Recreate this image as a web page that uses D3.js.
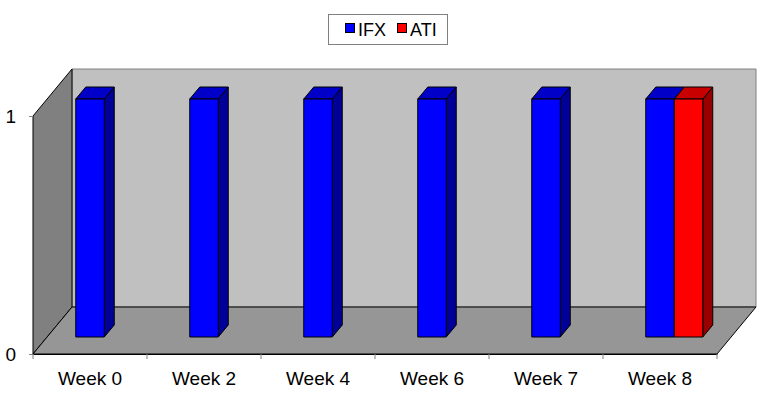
<!DOCTYPE html>
<html><head><meta charset="utf-8">
<script src="https://cdn.jsdelivr.net/npm/d3@7/dist/d3.min.js"></script>
<style>
html,body{margin:0;padding:0;background:#fff;}
svg{display:block;font-family:"Liberation Sans",Arial,sans-serif;}
</style></head>
<body>
<svg id="chart" width="774" height="400"></svg>
<script>
const categories = ["Week 0","Week 2","Week 4","Week 6","Week 7","Week 8"];
const seriesNames = ["IFX","ATI"];
const ifxValues = [1,1,1,1,1,1];
const atiValues = [null,null,null,null,null,1];
const yTicks = [0,1];

const colors = {
  IFX:{front:"#0000ff", top:"#0000c8", side:"#000098"},
  ATI:{front:"#ff0000", top:"#c80000", side:"#980000"}
};
const series = [
  {name:"IFX", values:ifxValues},
  {name:"ATI", values:atiValues}
];

const svg = d3.select("#chart");
const x = d3.scaleBand().domain(categories).range([33,717]).paddingInner(0).paddingOuter(0);
const y = d3.scaleLinear().domain([0,1]).range([354,116]);

const DX = 39, DY = -47;
const bdx = 10, bdy = -12, barShiftY = -17;
const barW = x.bandwidth()/4;

const x0 = x.range()[0], x1 = x.range()[1];
const yb = y(0), yt = y(1);

svg.append("polygon")
  .attr("points", [[x0+DX,yt+DY],[x1+DX,yt+DY],[x1+DX,yb+DY],[x0+DX,yb+DY]].join(" "))
  .attr("fill","#c0c0c0").attr("stroke","#808080").attr("stroke-width",1);
svg.append("polygon")
  .attr("points", [[x0,yt],[x0+DX,yt+DY],[x0+DX,yb+DY],[x0,yb]].join(" "))
  .attr("fill","#808080").attr("stroke","#000").attr("stroke-width",1);
svg.append("polygon")
  .attr("points", [[x0,yb],[x0+DX,yb+DY],[x1+DX,yb+DY],[x1,yb]].join(" "))
  .attr("fill","#969696").attr("stroke","#000").attr("stroke-width",1);

const bars = [];
categories.forEach((c,i)=>{
  series.forEach((s,si)=>{
    const v = s.values[i];
    if (v==null) return;
    const left = x(c) + x.bandwidth()/2 - barW/2 + si*barW;
    bars.push({c, s:s.name, v, left});
  });
});
const g = svg.append("g");
bars.forEach(b=>{
  const L = b.left, R = b.left+barW;
  const T = y(b.v)+barShiftY, B = y(0)+barShiftY;
  const col = colors[b.s];
  const bg = g.append("g").attr("stroke","#000").attr("stroke-width",1).attr("stroke-linejoin","round");
  bg.append("polygon").attr("points",[[R,T],[R+bdx,T+bdy],[R+bdx,B+bdy],[R,B]].join(" ")).attr("fill",col.side);
  bg.append("polygon").attr("points",[[L,T],[L+bdx,T+bdy],[R+bdx,T+bdy],[R,T]].join(" ")).attr("fill",col.top);
  bg.append("rect").attr("x",L).attr("y",T).attr("width",barW).attr("height",B-T).attr("fill",col.front);
});

const xAxis = d3.axisBottom(x).tickSize(0).tickPadding(18);
const gx = svg.append("g").attr("transform",`translate(0,${yb})`).call(xAxis);
gx.select(".domain").attr("stroke","#000");
gx.selectAll("text").attr("font-size","19px").attr("fill","#000").attr("font-family","Liberation Sans, Arial, sans-serif");
svg.append("g").selectAll("line").data(categories.concat(["end"])).join("line")
  .attr("x1",(d,i)=> i<categories.length ? x(d) : x1)
  .attr("x2",(d,i)=> i<categories.length ? x(d) : x1)
  .attr("y1",yb).attr("y2",yb+5).attr("stroke","#808080");

const yAxis = d3.axisLeft(y).tickValues(yTicks).tickFormat(d3.format("d")).tickSize(4).tickPadding(13);
const gy = svg.append("g").attr("transform",`translate(${x0},0)`).call(yAxis);
gy.select(".domain").remove();
gy.selectAll("line").attr("stroke","#808080");
gy.selectAll("text").attr("font-size","19px").attr("fill","#000").attr("font-family","Liberation Sans, Arial, sans-serif");

const lg = svg.append("g");
lg.append("rect").attr("x",328.5).attr("y",14.5).attr("width",119).attr("height",30)
  .attr("fill","#fff").attr("stroke","#808080");
const legendPos = [{x:345, tx:358},{x:397, tx:410}];
seriesNames.forEach((n,i)=>{
  lg.append("rect").attr("x",legendPos[i].x+0.5).attr("y",23.5).attr("width",9).attr("height",9)
    .attr("fill",colors[n].front).attr("stroke","#000");
  lg.append("text").attr("x",legendPos[i].tx).attr("y",35.5).attr("font-size","18px").attr("fill","#000").text(n);
});
</script>
</body></html>
